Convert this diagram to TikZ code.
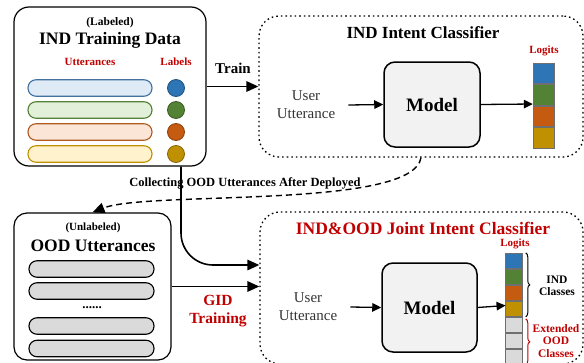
\documentclass[tikz,border=0pt]{standalone}
\usepackage{fontspec}
\setmainfont{Liberation Serif}
\usetikzlibrary{arrows.meta,decorations.pathreplacing,calc}

\definecolor{redtxt}{HTML}{C00000}
\definecolor{cblue}{HTML}{2E75B6}
\definecolor{cgreen}{HTML}{548235}
\definecolor{corange}{HTML}{C55A11}
\definecolor{cgold}{HTML}{BF9000}
\definecolor{pblue}{HTML}{DEEBF7}
\definecolor{pgreen}{HTML}{E2F0D9}
\definecolor{porange}{HTML}{FBE5D6}
\definecolor{pgold}{HTML}{FFF2CC}
\definecolor{bblue}{HTML}{41719C}
\definecolor{bgreen}{HTML}{538135}
\definecolor{borange}{HTML}{AE5A21}
\definecolor{bgold}{HTML}{BF9000}
\definecolor{cellgray}{HTML}{DADADA}
\definecolor{cellline}{HTML}{6F6F6F}
\definecolor{modelfill}{HTML}{F2F2F2}

\newcommand{\fs}[1]{\fontsize{#1}{1.2\dimexpr#1pt\relax}\selectfont}

\tikzset{
  panel/.style={draw, line width=1.2pt, rounded corners=15pt, inner sep=0pt},
  dotpanel/.style={draw, line width=1.3pt, rounded corners=20pt, inner sep=0pt,
    dash pattern=on 1.6pt off 3pt},
  modelbox/.style={draw, line width=1.5pt, fill=modelfill, rounded corners=11pt,
    minimum width=96pt, inner sep=0pt, font=\bfseries\fs{19}},
  pill/.style={draw, line width=1.1pt, rounded corners=8pt, minimum width=124pt,
    minimum height=16.5pt, inner sep=0pt},
  dot/.style={circle, draw, line width=0.8pt, minimum size=17pt, inner sep=0pt},
  cell/.style={draw=cellline, line width=1pt, inner sep=0pt, anchor=north},
  txt/.style={inner sep=0pt, align=center},
  arr/.style={line width=1.3pt, -{Triangle[length=9pt,width=8.5pt]}},
  bigarr/.style={line width=1.6pt, -{Triangle[length=12pt,width=10.5pt]}},
}

\begin{document}
\begin{tikzpicture}[x=1pt,y=-1pt]
\useasboundingbox (0,0) rectangle (584,362);
\clip (0,0) rectangle (584,362);

% ---------- labelled training data ----------
\node[panel, minimum width=192pt, minimum height=159pt] (ind) at (110,86.5) {};
\node[txt, font=\bfseries\fs{11.5}] (labeled) at (110,23) {(Labeled)};
\node[txt, font=\bfseries\fs{17.5}] (indtitle) at (110,40) {IND Training Data};
\node[txt, font=\bfseries\fs{11}, text=redtxt] (utth) at (90,62) {Utterances};
\node[txt, font=\bfseries\fs{11}, text=redtxt] (labh) at (176,62) {Labels};

\node[pill, draw=bblue, fill=pblue] (p1) at (90,88) {};
\node[pill, draw=bgreen, fill=pgreen] (p2) at (90,110) {};
\node[pill, draw=borange, fill=porange] (p3) at (90,132) {};
\node[pill, draw=bgold, fill=pgold] (p4) at (90,154) {};
\node[dot, fill=cblue, draw=cblue!70!black] (d1) at (176,88) {};
\node[dot, fill=cgreen, draw=cgreen!70!black] (d2) at (176,110) {};
\node[dot, fill=corange, draw=corange!70!black] (d3) at (176,132) {};
\node[dot, fill=cgold, draw=cgold!70!black] (d4) at (176,154) {};

% ---------- IND intent classifier ----------
\node[dotpanel, minimum width=324pt, minimum height=141pt] (cls) at (421,86.5) {};
\node[txt, font=\bfseries\fs{17}] (clstitle) at (423,33) {IND Intent Classifier};
\node[txt, font=\fs{15}, text=black!80] (u1) at (306,105) {User\\[0pt]Utterance};
\node[modelbox, minimum height=85pt] (m1) at (432,104.5) {Model};
\node[txt, font=\bfseries\fs{11}, text=redtxt] (lgt1) at (544,51) {Logits};
\node[inner sep=0pt, minimum width=21pt, minimum height=82pt] (lg1) at (543.5,104) {};
\node[cell, fill=cblue, minimum width=21pt, minimum height=20.5pt] (c1a) at (lg1.north) {};
\node[cell, fill=cgreen, minimum width=21pt, minimum height=20.5pt] (c1b) at (c1a.south) {};
\node[cell, fill=corange, minimum width=21pt, minimum height=20.5pt] (c1c) at (c1b.south) {};
\node[cell, fill=cgold, minimum width=21pt, minimum height=20.5pt] (c1d) at (c1c.south) {};

\draw[bigarr] (ind) -- (cls);
\node[txt, font=\bfseries\fs{15}] (train) at (233,68) {Train};
\draw[arr] ([xshift=13pt]u1.east) -- (m1.west);
\draw[arr] (m1.east) -- (lg1.west);

% ---------- unlabelled OOD utterances ----------
\node[panel, rounded corners=13pt, minimum width=157pt, minimum height=147pt] (ood) at (92.5,286.5) {};
\node[txt, font=\bfseries\fs{11}] (unlab) at (93,228) {(Unlabeled)};
\node[txt, font=\bfseries\fs{17.5}] (oodtitle) at (93,246) {OOD Utterances};
\node[pill, draw=black, fill=cellgray, minimum width=125pt] (g1) at (91.5,269) {};
\node[pill, draw=black, fill=cellgray, minimum width=125pt] (g2) at (91.5,291) {};
\node[txt, font=\bfseries\fs{13}] (gdots) at (92,308) {......};
\node[pill, draw=black, fill=cellgray, minimum width=125pt] (g3) at (91.5,326) {};
\node[pill, draw=black, fill=cellgray, minimum width=125pt] (g4) at (91.5,348.5) {};

% ---------- joint classifier ----------
\node[dotpanel, minimum width=323pt, minimum height=152pt] (joint) at (421.5,288) {};
\node[txt, font=\bfseries\fs{17.5}, text=redtxt] (jtitle) at (423,228) {IND\&OOD Joint Intent Classifier};
\node[txt, font=\fs{15}, text=black!80] (u2) at (308,307) {User\\[0pt]Utterance};
\node[modelbox, minimum width=95pt, minimum height=89pt] (m2) at (429.5,307.5) {Model};
\node[txt, font=\bfseries\fs{11}, text=redtxt] (lgt2) at (515,244) {Logits};
\node[inner sep=0pt, minimum width=16.5pt, minimum height=105pt] (lg2) at (514,305.5) {};
\node[cell, fill=cblue, minimum width=16.5pt, minimum height=15pt] (c2a) at (lg2.north) {};
\node[cell, fill=cgreen, minimum width=16.5pt, minimum height=15pt] (c2b) at (c2a.south) {};
\node[cell, fill=corange, minimum width=16.5pt, minimum height=15pt] (c2c) at (c2b.south) {};
\node[cell, fill=cgold, minimum width=16.5pt, minimum height=15pt] (c2d) at (c2c.south) {};
\node[cell, fill=cellgray, minimum width=16.5pt, minimum height=15pt] (c2e) at (c2d.south) {};
\node[cell, fill=cellgray, minimum width=16.5pt, minimum height=15pt] (c2f) at (c2e.south) {};
\node[cell, fill=cellgray, minimum width=16.5pt, minimum height=15pt] (c2g) at (c2f.south) {};

\draw[arr] ([xshift=13pt]u2.east) -- (m2.west);
\draw[arr] (m2.east) -- (lg2.west);

% class braces
\draw[line width=1pt, decorate, decoration={brace, amplitude=4pt}]
  ([xshift=3pt]c2a.north east) -- ([xshift=3pt]c2d.south east)
  coordinate[midway] (bind);
\draw[line width=1pt, redtxt, decorate, decoration={brace, amplitude=4pt}]
  ([xshift=3pt,yshift=-2pt]c2e.north east) -- ([xshift=3pt]c2g.south east)
  coordinate[midway] (bood);
\node[txt, font=\bfseries\fs{11.5}] (indcls) at (557,286) {IND\\[-1.5pt]Classes};
\node[txt, font=\bfseries\fs{11.5}, text=redtxt] (oodcls) at (556,341) {Extended\\[-1pt]OOD\\[-1pt]Classes};

% ---------- connectors between stages ----------
\draw[bigarr, line width=1.4pt, dash pattern=on 6pt off 4pt] (cls.south)
  .. controls +(-8,52) and +(55,-22) .. (ood.north);
\node[txt, font=\bfseries\fs{12.5}] (collect) at (245,183)
  {Collecting OOD Utterances After Deployed};
\draw[bigarr, rounded corners=32pt] ([xshift=71pt]ind.south) |- ([yshift=23pt]joint.west);
\draw[bigarr] (ood.east) -- (ood.east -| joint.west);
\node[txt, font=\bfseries\fs{15.5}, text=redtxt] (gid) at (218,311) {GID\\[0pt]Training};
\end{tikzpicture}
\end{document}
